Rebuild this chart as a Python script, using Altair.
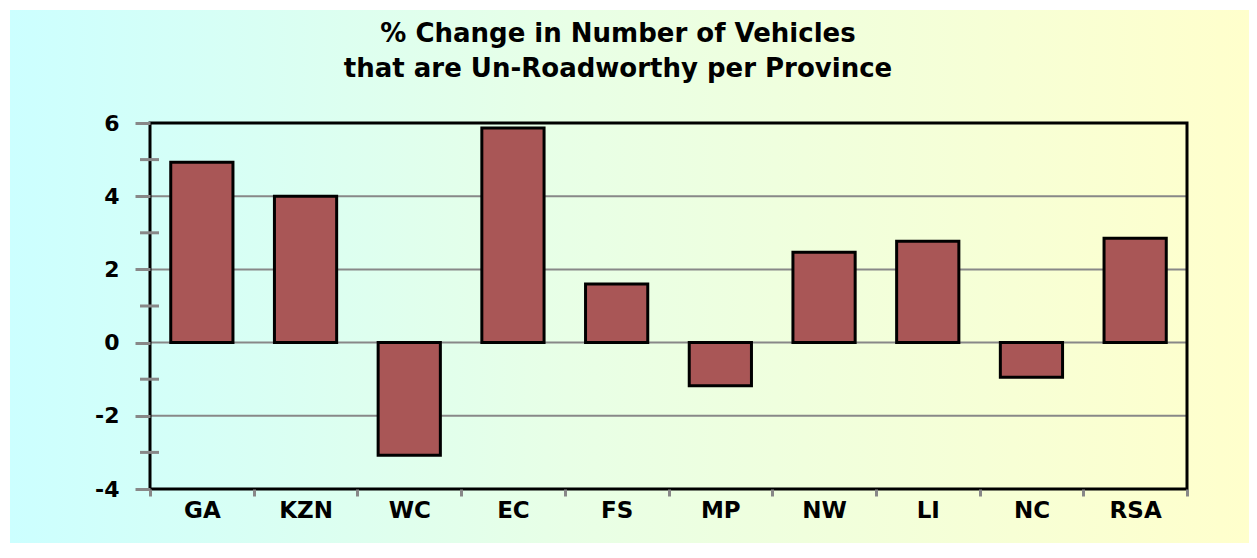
import altair as alt
import pandas as pd

provinces = ["GA", "KZN", "WC", "EC", "FS", "MP", "NW", "LI", "NC", "RSA"]
pct_change = [4.93, 4.0, -3.08, 5.86, 1.6, -1.18, 2.47, 2.77, -0.95, 2.85]
major_ticks = [-4, -2, 0, 2, 4, 6]
grid_values = [-2, 0, 2, 4]
minor_ticks = [-3, -1, 1, 3, 5]
title_lines = ["% Change in Number of Vehicles", "that are Un-Roadworthy per Province"]

W, H = 1037, 366
PAD = {"left": 142, "top": 115, "right": 62, "bottom": 54}
FONT = "DejaVu Sans"

bars_df = pd.DataFrame({"prov": provinces, "val": pct_change})
grid_df = pd.DataFrame({"v": grid_values})
minor_df = pd.DataFrame({"v": minor_ticks})
one_df = pd.DataFrame({"a": [0]})

yscale = alt.Scale(domain=[-4, 6], nice=False, zero=False)
yaxis = alt.Axis(
    title=None, values=major_ticks, grid=False, labelFont=FONT,
    labelFontSize=22, labelFontWeight="bold", labelColor="black",
    labelExpr="datum.value + ''",
    tickColor="#888888", tickWidth=3, tickSize=15, labelPadding=16,
    domain=False, zindex=1,
)

bg = alt.Chart(one_df).mark_rect(
    fill=alt.Gradient(
        gradient="linear",
        stops=[
            alt.GradientStop(color="#CCFFFF", offset=0),
            alt.GradientStop(color="#E8FFE6", offset=0.45),
            alt.GradientStop(color="#FFFFCC", offset=1),
        ],
        x1=0, x2=1, y1=0, y2=0,
    )
).encode(
    x=alt.value(-PAD["left"] + 2),
    x2=alt.value(W + PAD["right"]),
    y=alt.value(-PAD["top"] + 2),
    y2=alt.value(H + PAD["bottom"]),
)

grid = alt.Chart(grid_df).mark_rule(color="#888888", strokeWidth=2).encode(
    y=alt.Y("v:Q", scale=yscale, axis=yaxis)
)

bars = alt.Chart(bars_df).mark_bar(
    color="#A95656", stroke="black", strokeWidth=3,
    width=alt.RelativeBandSize(0.6),
).encode(
    x=alt.X(
        "prov:N",
        sort=provinces,
        scale=alt.Scale(paddingInner=0, paddingOuter=0),
        axis=alt.Axis(
            title=None, labelAngle=0, labelFont=FONT, labelFontSize=23,
            labelFontWeight="bold", labelColor="black", tickBand="extent",
            tickColor="#888888", tickWidth=3, tickSize=7, labelPadding=3,
            domain=False, zindex=1,
        ),
    ),
    y=alt.Y("val:Q", scale=yscale, axis=yaxis),
)

frame = alt.Chart(one_df).mark_rect(
    fill="transparent", stroke="black", strokeWidth=3
).encode(
    x=alt.value(0), x2=alt.value(W), y=alt.value(0), y2=alt.value(H)
)

minor = alt.Chart(minor_df).mark_rule(color="#888888", strokeWidth=3).encode(
    y=alt.Y("v:Q", scale=yscale, axis=yaxis),
    x=alt.value(-10),
    x2=alt.value(9),
)

title1 = alt.Chart(one_df).mark_text(
    text=title_lines[0], font=FONT, fontSize=26, fontWeight="bold",
    color="black", align="center", baseline="alphabetic",
).encode(x=alt.value(468), y=alt.value(-81))

title2 = alt.Chart(one_df).mark_text(
    text=title_lines[1], font=FONT, fontSize=26, fontWeight="bold",
    color="black", align="center", baseline="alphabetic",
).encode(x=alt.value(468), y=alt.value(-46))

chart = alt.layer(bg, grid, bars, frame, minor, title1, title2).properties(
    width=W,
    height=H,
    autosize=alt.AutoSizeParams(type="none"),
    padding=PAD,
    background="white",
).configure_view(stroke=None)

chart.save("out.html", embed_options={"renderer": "svg", "actions": False})
